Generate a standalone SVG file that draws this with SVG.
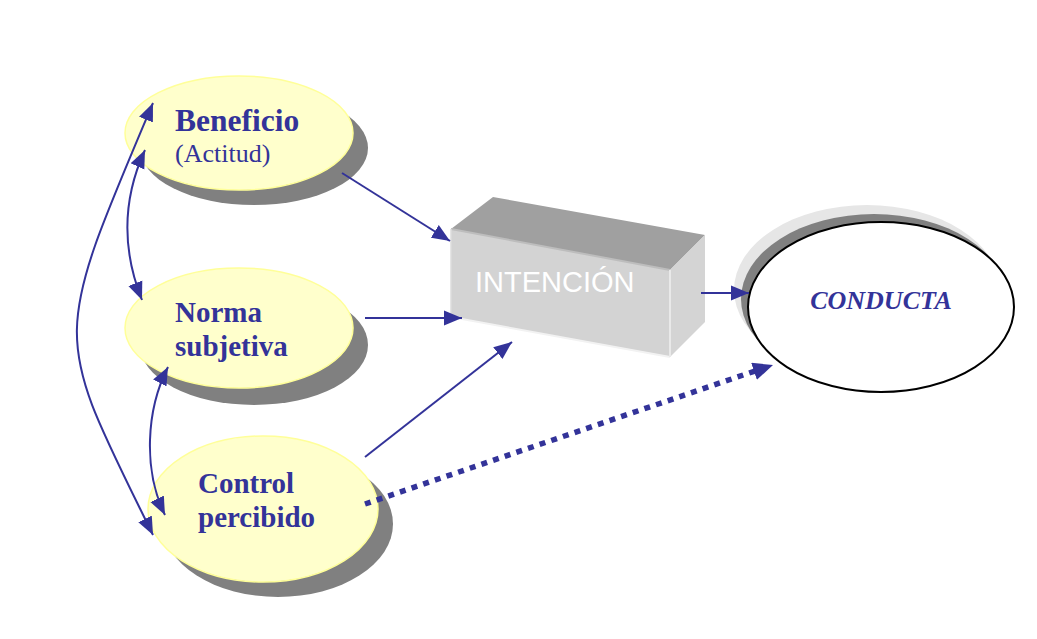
<svg xmlns="http://www.w3.org/2000/svg" width="1037" height="639" viewBox="0 0 1037 639">
  <style>
    .shadow { fill: #808080; }
    .oval { fill: #ffffcc; stroke: #ffff99; stroke-width: 1.5; }
    .lbl { font-family: "Liberation Serif", "Times New Roman", serif; font-weight: bold; fill: #333399; font-size: 29px; }
    .big { font-size: 31.5px; }
    .sub { font-family: "Liberation Serif", "Times New Roman", serif; fill: #333399; font-size: 26px; }
    .link { fill: none; stroke: #333399; stroke-width: 2; }
  </style>
  <defs>
    <marker id="tip" markerUnits="userSpaceOnUse" markerWidth="20" markerHeight="16" refX="18" refY="8" orient="auto-start-reverse">
      <path d="M0,0.5 L18,8 L0,15.5 Z" fill="#333399"/>
    </marker>
    <marker id="tipBig" markerUnits="userSpaceOnUse" markerWidth="22" markerHeight="18" refX="20" refY="9" orient="auto">
      <path d="M0,0 L20,9 L0,18 Z" fill="#333399"/>
    </marker>
  </defs>
  <rect width="1037" height="639" fill="#ffffff"/>

  <!-- Beneficio (Actitud) -->
  <g id="beneficio">
    <ellipse class="shadow" cx="254" cy="148" rx="114" ry="57"/>
    <ellipse class="oval" cx="239" cy="133" rx="114" ry="57"/>
    <text class="lbl big" x="175" y="131">Beneficio</text>
    <text class="sub" x="175" y="162">(Actitud)</text>
  </g>

  <!-- Norma subjetiva -->
  <g id="norma">
    <ellipse class="shadow" cx="254" cy="345" rx="114" ry="60"/>
    <ellipse class="oval" cx="239" cy="328" rx="114" ry="60"/>
    <text class="lbl" x="175" y="322">Norma</text>
    <text class="lbl" x="175" y="356">subjetiva</text>
  </g>

  <!-- Control percibido -->
  <g id="control">
    <ellipse class="shadow" cx="278" cy="524" rx="115" ry="73"/>
    <ellipse class="oval" cx="263" cy="509" rx="115" ry="73"/>
    <text class="lbl" x="198" y="493">Control</text>
    <text class="lbl" x="198" y="527">percibido</text>
  </g>

  <!-- Intención: shaded box -->
  <g id="intencion">
    <polygon points="451,229 493,197 705,235 670,270" fill="#a0a0a0"/>
    <polygon points="670,270 705,235 705,322 670,357" fill="#d4d4d4"/>
    <polygon points="451,229 670,270 670,357 451,317" fill="#d3d3d3"/>
    <line x1="451" y1="229" x2="670" y2="270" stroke="#bdbdbd" stroke-width="2"/>
    <line x1="451" y1="317" x2="670" y2="357" stroke="#f2f2f2" stroke-width="2"/>
    <line x1="670" y1="270" x2="670" y2="357" stroke="#e9e9e9" stroke-width="2"/>
    <line x1="451" y1="229" x2="451" y2="317" stroke="#dcdcdc" stroke-width="1.5"/>
    <text x="475" y="292" font-family="Liberation Sans, Arial, sans-serif" font-size="29" fill="#ffffff">INTENCIÓN</text>
  </g>

  <!-- Conducta -->
  <g id="conducta">
    <ellipse cx="867" cy="290" rx="133" ry="85" fill="#e6e6e6"/>
    <ellipse cx="874" cy="299" rx="133" ry="85" fill="#808080"/>
    <ellipse cx="881" cy="307" rx="133" ry="85" fill="#ffffff" stroke="#000000" stroke-width="2"/>
    <text x="881" y="309" text-anchor="middle" font-family="Liberation Serif, Times New Roman, serif" font-weight="bold" font-style="italic" font-size="26" fill="#333399">CONDUCTA</text>
  </g>

  <!-- Connectors -->
  <g id="connectors">
    <path class="link" d="M153,103 C50,346 53,331 153,535" marker-start="url(#tip)" marker-end="url(#tip)"/>
    <path class="link" d="M145,150 C122,200 122,250 142,300" marker-start="url(#tip)" marker-end="url(#tip)"/>
    <path class="link" d="M168,367 C146,410 143,470 165,515" marker-start="url(#tip)" marker-end="url(#tip)"/>
    <line class="link" x1="342" y1="173" x2="450" y2="241" marker-end="url(#tip)"/>
    <line class="link" x1="365" y1="318" x2="462" y2="318" marker-end="url(#tip)"/>
    <line class="link" x1="365" y1="457" x2="512" y2="342" marker-end="url(#tip)"/>
    <line class="link" x1="701" y1="293" x2="749" y2="293" marker-end="url(#tip)"/>
    <line x1="365" y1="504" x2="755" y2="371" stroke="#333399" stroke-width="5.5" stroke-dasharray="6 6.3"/>
    <line x1="755" y1="371" x2="773" y2="365" stroke="none" marker-end="url(#tipBig)"/>
  </g>
</svg>
